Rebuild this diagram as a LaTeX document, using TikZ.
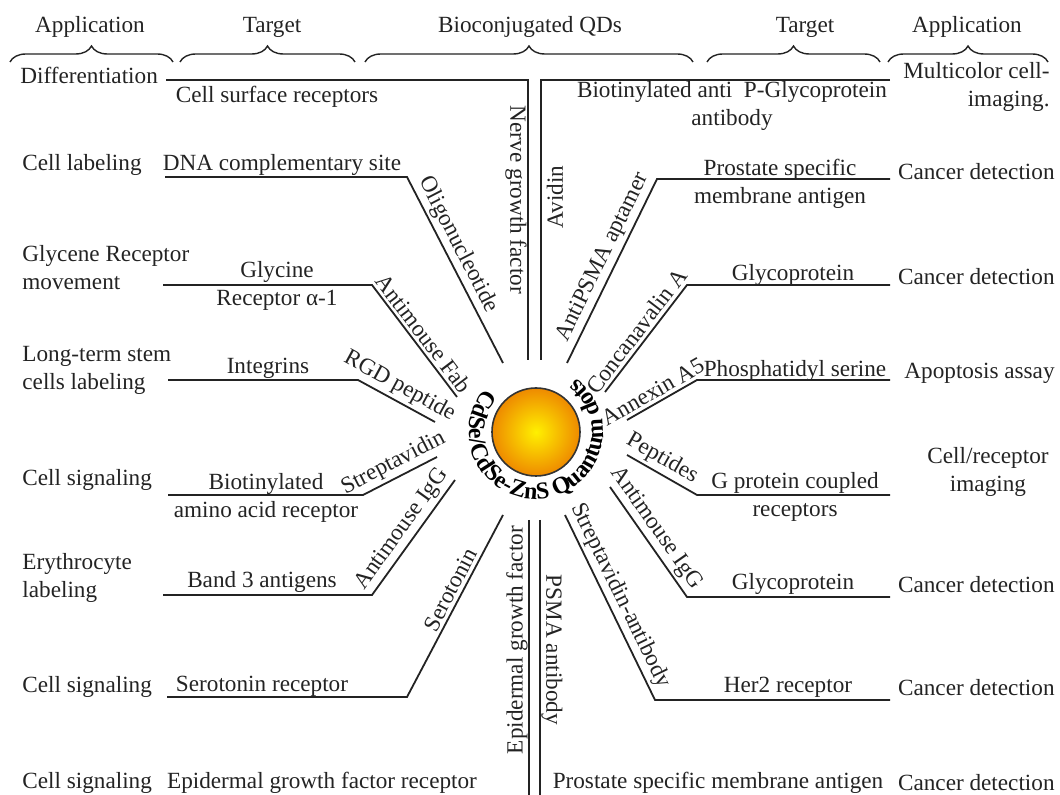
\documentclass[tikz,border=0pt]{standalone}
\usepackage{fontspec}
\setmainfont{Liberation Serif}
\usepackage{tikz}
\usetikzlibrary{decorations.pathreplacing, decorations.text}
\definecolor{ink}{RGB}{35, 35, 35}
\definecolor{qdcore}{RGB}{255, 240, 0}
\definecolor{qdshell}{RGB}{238, 138, 0}

\tikzset{
  lbl/.style={font=\fontsize{11.6}{14}\selectfont, text=ink, inner sep=1pt},
  appl/.style={lbl, anchor=west, align=left},
  appr/.style={lbl, anchor=east, align=right},
  tgt/.style={lbl, align=center},
  link/.style={lbl, sloped, above, inner sep=1.5pt},
  spoke/.style={draw=ink, line width=0.9pt},
  headbrace/.style={draw=ink, line width=0.7pt, decorate, decoration={brace, amplitude=8pt}},
  qdball/.style={circle, draw=black!80, line width=0.8pt, minimum size=44pt, inner sep=0pt,
    inner color=qdcore, outer color=qdshell}
}

\begin{document}
\begin{tikzpicture}[x=0.5pt, y=-0.5pt]
  \useasboundingbox (0,0) rectangle (1060,795);

  \node[lbl] (hAppL) at (90,27) {Application};
  \node[lbl] (hTgtL) at (272,27) {Target};
  \node[lbl] (hQD)   at (530,27) {Bioconjugated QDs};
  \node[lbl] (hTgtR) at (805,27) {Target};
  \node[lbl] (hAppR) at (967,27) {Application};
  \draw[headbrace] (10,62) -- (173,62);
  \draw[headbrace] (180,62) -- (355,62);
  \draw[headbrace] (365,62) -- (693,62);
  \draw[headbrace] (707,62) -- (880,62);
  \draw[headbrace] (888,62) -- (1048,62);

  \node[qdball] (qd) at (536,432) {};
  \begin{scope}[shift={(qd.center)}, x=0.5pt, y=0.5pt]
    \path[decorate, decoration={text along path, text align=center,
        text={|\fontsize{12}{14}\selectfont\bfseries|CdSe/CdSe-ZnS Quantum dots}}]
      (118:67) arc[start angle=118, end angle=435, radius=67];
  \end{scope}

  % left side
  \coordinate (L1o) at (166,80);  \coordinate (L1b) at (528,80);  \coordinate (L1i) at (528,360);
  \coordinate (L2o) at (165,177); \coordinate (L2b) at (407,177); \coordinate (L2i) at (503,363);
  \coordinate (L3o) at (163,285); \coordinate (L3b) at (372,285); \coordinate (L3i) at (457,397);
  \coordinate (L4o) at (168,380); \coordinate (L4b) at (358,380); \coordinate (L4i) at (435,422);
  \coordinate (L5o) at (168,495); \coordinate (L5b) at (363,495); \coordinate (L5i) at (437,457);
  \coordinate (L6o) at (163,595); \coordinate (L6b) at (372,595); \coordinate (L6i) at (455,480);
  \coordinate (L7o) at (167,697); \coordinate (L7b) at (407,697); \coordinate (L7i) at (503,515);
  \coordinate (L8i) at (529,520); \coordinate (L8o) at (529,795);

  \draw[spoke] (L1o) -- (L1b) -- (L1i);
  \draw[spoke] (L2o) -- (L2b) -- (L2i) node[link, pos=0.4] (ligL2) {Oligonucleotide};
  \draw[spoke] (L3o) -- (L3b) -- (L3i) node[link, pos=0.5] (ligL3) {Antimouse Fab};
  \draw[spoke] (L4o) -- (L4b) -- (L4i) node[link, pos=0.45] (ligL4) {RGD peptide};
  \draw[spoke] (L5o) -- (L5b) -- (L5i) node[link, pos=0.5] (ligL5) {Streptavidin};
  \draw[spoke] (L6o) -- (L6b) -- (L6i) node[link, pos=0.5] (ligL6) {Antimouse IgG};
  \draw[spoke] (L7o) -- (L7b) -- (L7i) node[link, pos=0.56] (ligL7) {Serotonin};
  \draw[spoke] (L8i) -- (L8o);
  \node[lbl, rotate=-90] (ligL1) at (516,200) {Nerve growth factor};
  \node[lbl, rotate=90] (ligL8) at (517,640) {Epidermal growth factor};

  \node[appl] (appL1) at (18,75) {Differentiation};
  \node[appl] (appL2) at (20,165) {Cell labeling};
  \node[appl] (appL3) at (20,268) {Glycene Receptor\\movement};
  \node[appl] (appL4) at (20,370) {Long-term stem\\cells labeling};
  \node[appl] (appL5) at (20,480) {Cell signaling};
  \node[appl] (appL6) at (20,578) {Erythrocyte\\labeling};
  \node[appl] (appL7) at (20,687) {Cell signaling};
  \node[appl] (appL8) at (20,783) {Cell signaling};

  \node[tgt] (tgtL1) at (277,97) {Cell surface receptors};
  \node[tgt] (tgtL2) at (282,165) {DNA complementary site};
  \node[tgt] (tgtL3) at (277,286) {Glycine\\Receptor α-1};
  \node[tgt] (tgtL4) at (268,368) {Integrins};
  \node[tgt] (tgtL5) at (266,498) {Biotinylated\\amino acid receptor};
  \node[tgt] (tgtL6) at (262,582) {Band 3 antigens};
  \node[tgt] (tgtL7) at (262,686) {Serotonin receptor};
  \node[tgt] (tgtL8) at (322,783) {Epidermal growth factor receptor};

  % right side
  \coordinate (R1o) at (890,80);  \coordinate (R1b) at (541,80);  \coordinate (R1i) at (541,360);
  \coordinate (R2o) at (890,179); \coordinate (R2b) at (657,179); \coordinate (R2i) at (567,363);
  \coordinate (R3o) at (890,285); \coordinate (R3b) at (687,285); \coordinate (R3i) at (605,392);
  \coordinate (R4o) at (890,380); \coordinate (R4b) at (697,380); \coordinate (R4i) at (627,420);
  \coordinate (R5o) at (890,495); \coordinate (R5b) at (697,495); \coordinate (R5i) at (627,455);
  \coordinate (R6o) at (890,597); \coordinate (R6b) at (687,597); \coordinate (R6i) at (610,487);
  \coordinate (R7o) at (890,700); \coordinate (R7b) at (655,700); \coordinate (R7i) at (565,515);
  \coordinate (R8i) at (540,520); \coordinate (R8o) at (540,795);

  \draw[spoke] (R1o) -- (R1b) -- (R1i);
  \draw[spoke] (R2o) -- (R2b) -- (R2i) node[link, pos=0.46] (ligR2) {AntiPSMA aptamer};
  \draw[spoke] (R3o) -- (R3b) -- (R3i) node[link, pos=0.5] (ligR3) {Concanavalin A};
  \draw[spoke] (R4o) -- (R4b) -- (R4i) node[link, pos=0.55] (ligR4) {Annexin A5};
  \draw[spoke] (R5o) -- (R5b) -- (R5i) node[link, pos=0.6] (ligR5) {Peptides};
  \draw[spoke] (R6o) -- (R6b) -- (R6i) node[link, pos=0.55] (ligR6) {Antimouse IgG};
  \draw[spoke] (R7o) -- (R7b) -- (R7i) node[link, pos=0.53] (ligR7) {Streptavidin-antibody};
  \draw[spoke] (R8i) -- (R8o);
  \node[lbl, rotate=90] (ligR1) at (555,197) {Avidin};
  \node[lbl, rotate=-90] (ligR8) at (552,650) {PSMA antibody};

  \node[tgt] (tgtR1) at (732,106) {Biotinylated anti\ \ P-Glycoprotein\\antibody};
  \node[tgt] (tgtR2) at (780,184) {Prostate specific\\membrane antigen};
  \node[tgt] (tgtR3) at (793,275) {Glycoprotein};
  \node[tgt] (tgtR4) at (795,371) {Phosphatidyl serine};
  \node[tgt] (tgtR5) at (795,497) {G protein coupled\\receptors};
  \node[tgt] (tgtR6) at (793,584) {Glycoprotein};
  \node[tgt] (tgtR7) at (788,687) {Her2 receptor};
  \node[tgt] (tgtR8) at (718,783) {Prostate specific membrane antigen};

  \node[appr] (appR1) at (1052,87) {Multicolor cell-\\imaging.};
  \node[appr] (appR2) at (1057,172) {Cancer detection};
  \node[appr] (appR3) at (1057,277) {Cancer detection};
  \node[appr] (appR4) at (1057,373) {Apoptosis assay};
  \node[tgt]  (appR5) at (988,472) {Cell/receptor\\imaging};
  \node[appr] (appR6) at (1057,585) {Cancer detection};
  \node[appr] (appR7) at (1057,688) {Cancer detection};
  \node[appr] (appR8) at (1057,783) {Cancer detection};
\end{tikzpicture}
\end{document}
